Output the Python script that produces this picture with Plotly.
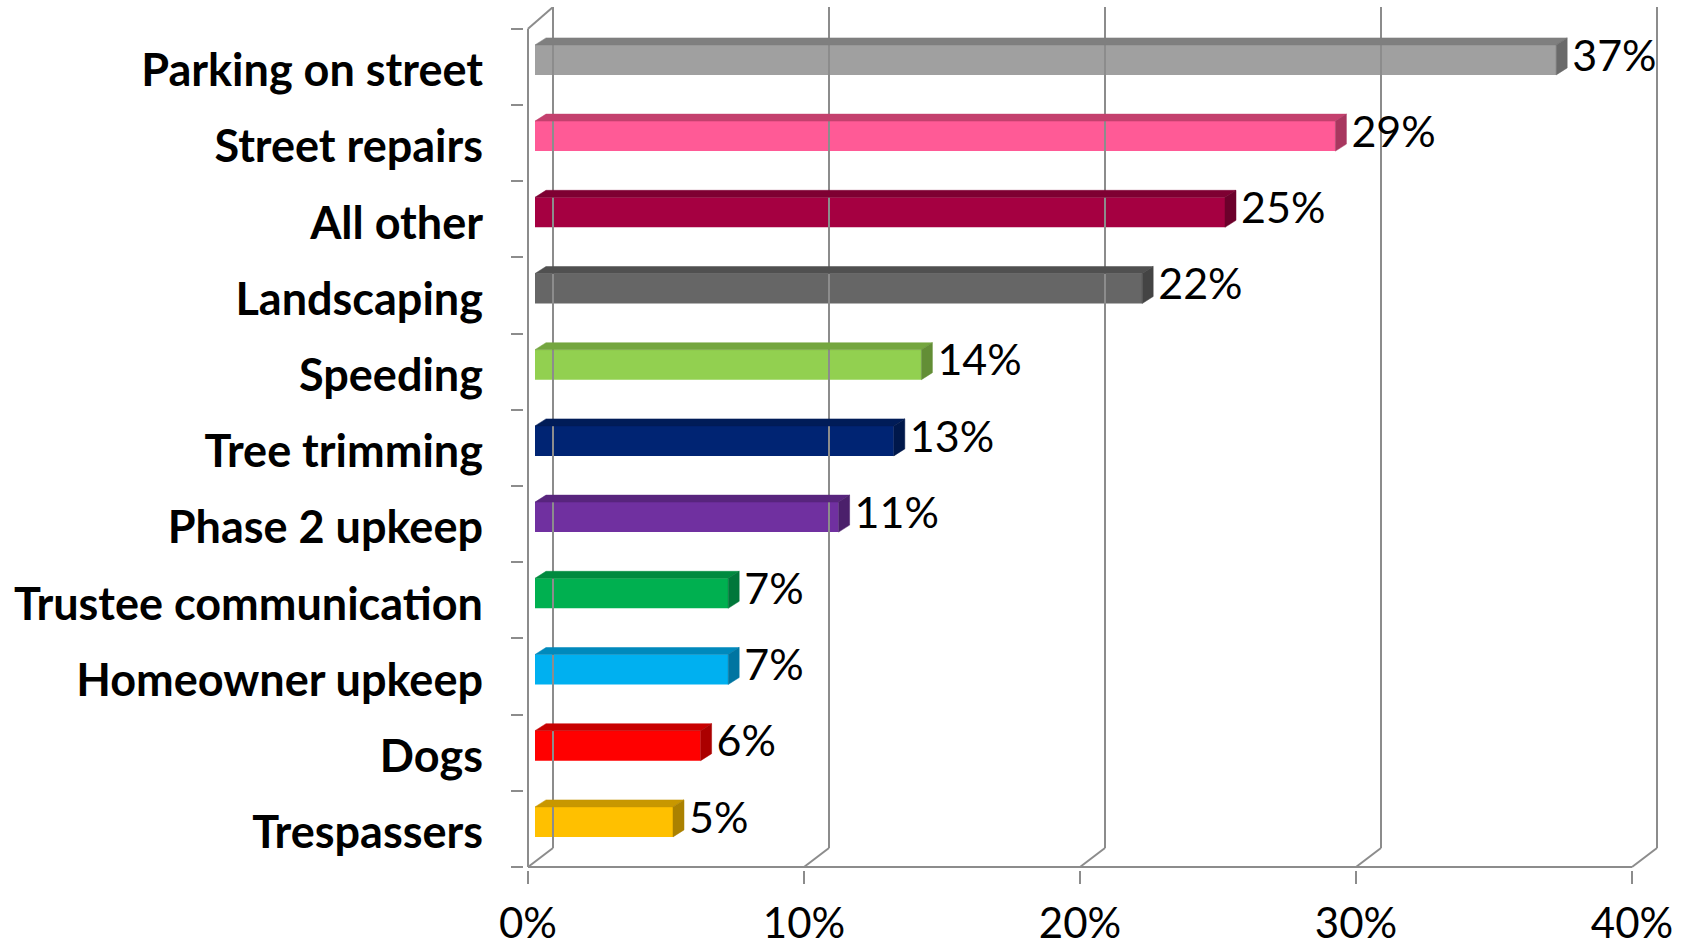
import plotly.graph_objects as go

# Survey results: share of respondents naming each concern (top to bottom)
categories = [
    "Parking on street", "Street repairs", "All other", "Landscaping",
    "Speeding", "Tree trimming", "Phase 2 upkeep", "Trustee communication",
    "Homeowner upkeep", "Dogs", "Trespassers",
]
values = [37, 29, 25, 22, 14, 13, 11, 7, 7, 6, 5]

# front / top / side shades for each bar
front_colors = ["#A0A0A0", "#FF5A96", "#A50041", "#666666", "#92D050", "#002473",
                "#7030A0", "#00B050", "#00B0F0", "#FF0000", "#FFC000"]
top_colors = ["#7F7F7F", "#C4406E", "#7E0032", "#505050", "#74A63F", "#001C58",
              "#58257D", "#008A3F", "#0089BC", "#C80000", "#C89700"]
side_colors = ["#6A6A6A", "#A8375F", "#6C002B", "#444444", "#638E36", "#00184B",
               "#4B206B", "#00773A", "#0075A1", "#AB0000", "#AB8100"]

x_ticks = [0, 10, 20, 30, 40]
x_tick_text = [f"{t}%" for t in x_ticks]

# ---- geometry of the pseudo-3D box (pixels converted to axis units) ----
W, H = 1692, 948
PLOT_L, PLOT_R, PLOT_T, PLOT_B = 524, 1665, 7, 870
PX_X = 27.6          # pixels per percent
PX_Y = 76.2          # pixels per category row
X_MIN = -4 / PX_X
X_MAX = X_MIN + (PLOT_R - PLOT_L) / PX_X
Y_MIN = -0.5 - 3 / PX_Y
Y_MAX = Y_MIN + (PLOT_B - PLOT_T) / PX_Y

WALL_DX, WALL_DY = 25 / PX_X, 19 / PX_Y      # back wall depth
BAR_X0 = 7 / PX_X                            # bars start a little behind the front plane
BAR_SHIFT = 7 / PX_Y                         # ... and therefore a little higher
BAR_DX, BAR_DY = 11 / PX_X, 7 / PX_Y         # bar depth
BAR_W = 30 / PX_Y                            # bar thickness
LABEL_GAP = 5 / PX_X                         # space between bar end and its value
CAT_LABEL_DROP = 3.5 / PX_Y                  # category names sit slightly below row centre

n = len(categories)
pos = [n - 1 - i for i in range(n)]          # top category gets the largest position

LINE = "#8C8C8C"
FONT = "Lato"

fig = go.Figure()

# back wall gridlines and the floor edges joining them to the front ticks
wx, wy = [], []
for t in x_ticks:
    wx += [t + WALL_DX, t + WALL_DX, None, t, t + WALL_DX, None]
    wy += [Y_MAX, -0.5 + WALL_DY, None, -0.5, -0.5 + WALL_DY, None]
# front-left edge, its top corner, and the front floor edge
wx += [0, 0, None, 0, WALL_DX, None, 0, x_ticks[-1]]
wy += [-0.5, n - 0.5, None, n - 0.5, Y_MAX, None, -0.5, -0.5]
fig.add_trace(go.Scatter(x=wx, y=wy, mode="lines", line=dict(color=LINE, width=2),
                         hoverinfo="skip", showlegend=False))

# bar front faces
fig.add_trace(go.Bar(
    x=values, y=pos, base=BAR_X0, orientation="h",
    width=BAR_W, offset=BAR_SHIFT - BAR_W / 2,
    marker=dict(color=front_colors, line=dict(width=0)),
    showlegend=False, hoverinfo="skip",
))

# top and end faces give each bar its depth
for v, p, tc, sc in zip(values, pos, top_colors, side_colors):
    y_top = p + BAR_SHIFT + BAR_W / 2
    y_bot = p + BAR_SHIFT - BAR_W / 2
    x_end = BAR_X0 + v
    fig.add_trace(go.Scatter(
        x=[BAR_X0, x_end, x_end + BAR_DX, BAR_X0 + BAR_DX, BAR_X0],
        y=[y_top, y_top, y_top + BAR_DY, y_top + BAR_DY, y_top],
        mode="lines", fill="toself", fillcolor=tc, line=dict(color=tc, width=0.5),
        hoverinfo="skip", showlegend=False))
    fig.add_trace(go.Scatter(
        x=[x_end, x_end + BAR_DX, x_end + BAR_DX, x_end, x_end],
        y=[y_bot, y_bot + BAR_DY, y_top + BAR_DY, y_top, y_bot],
        mode="lines", fill="toself", fillcolor=sc, line=dict(color=sc, width=0.5),
        hoverinfo="skip", showlegend=False))

# value labels
fig.add_trace(go.Scatter(
    x=[BAR_X0 + v + BAR_DX + LABEL_GAP for v in values],
    y=[p + BAR_SHIFT for p in pos],
    mode="text", text=[f"{v}%" for v in values], textposition="middle right",
    textfont=dict(family=FONT, size=43, color="#000000"),
    cliponaxis=False, hoverinfo="skip", showlegend=False))

fig.update_layout(
    width=W, height=H,
    margin=dict(l=PLOT_L, r=W - PLOT_R, t=PLOT_T, b=H - PLOT_B, autoexpand=False),
    paper_bgcolor="white", plot_bgcolor="white",
    xaxis=dict(
        range=[X_MIN, X_MAX], showgrid=False, zeroline=False, showline=False,
        tickvals=x_ticks, ticktext=x_tick_text, ticks="outside", ticklen=13,
        tickwidth=2, tickcolor=LINE, automargin=False, ticklabelstandoff=4,
        tickfont=dict(family=FONT, size=42, color="#000000"),
    ),
    yaxis=dict(
        range=[Y_MIN, Y_MAX], showgrid=False, zeroline=False, showline=False,
        tickvals=[p - CAT_LABEL_DROP for p in pos], ticktext=categories, ticks="",
        ticklabelstandoff=40, automargin=False,
        tickfont=dict(family=FONT, size=45, color="#000000", weight="bold"),
        minor=dict(tickvals=[k - 0.5 for k in range(n + 1)], ticks="outside",
                   ticklen=12, tickwidth=2, tickcolor=LINE),
    ),
)

fig.write_html("out.html")
